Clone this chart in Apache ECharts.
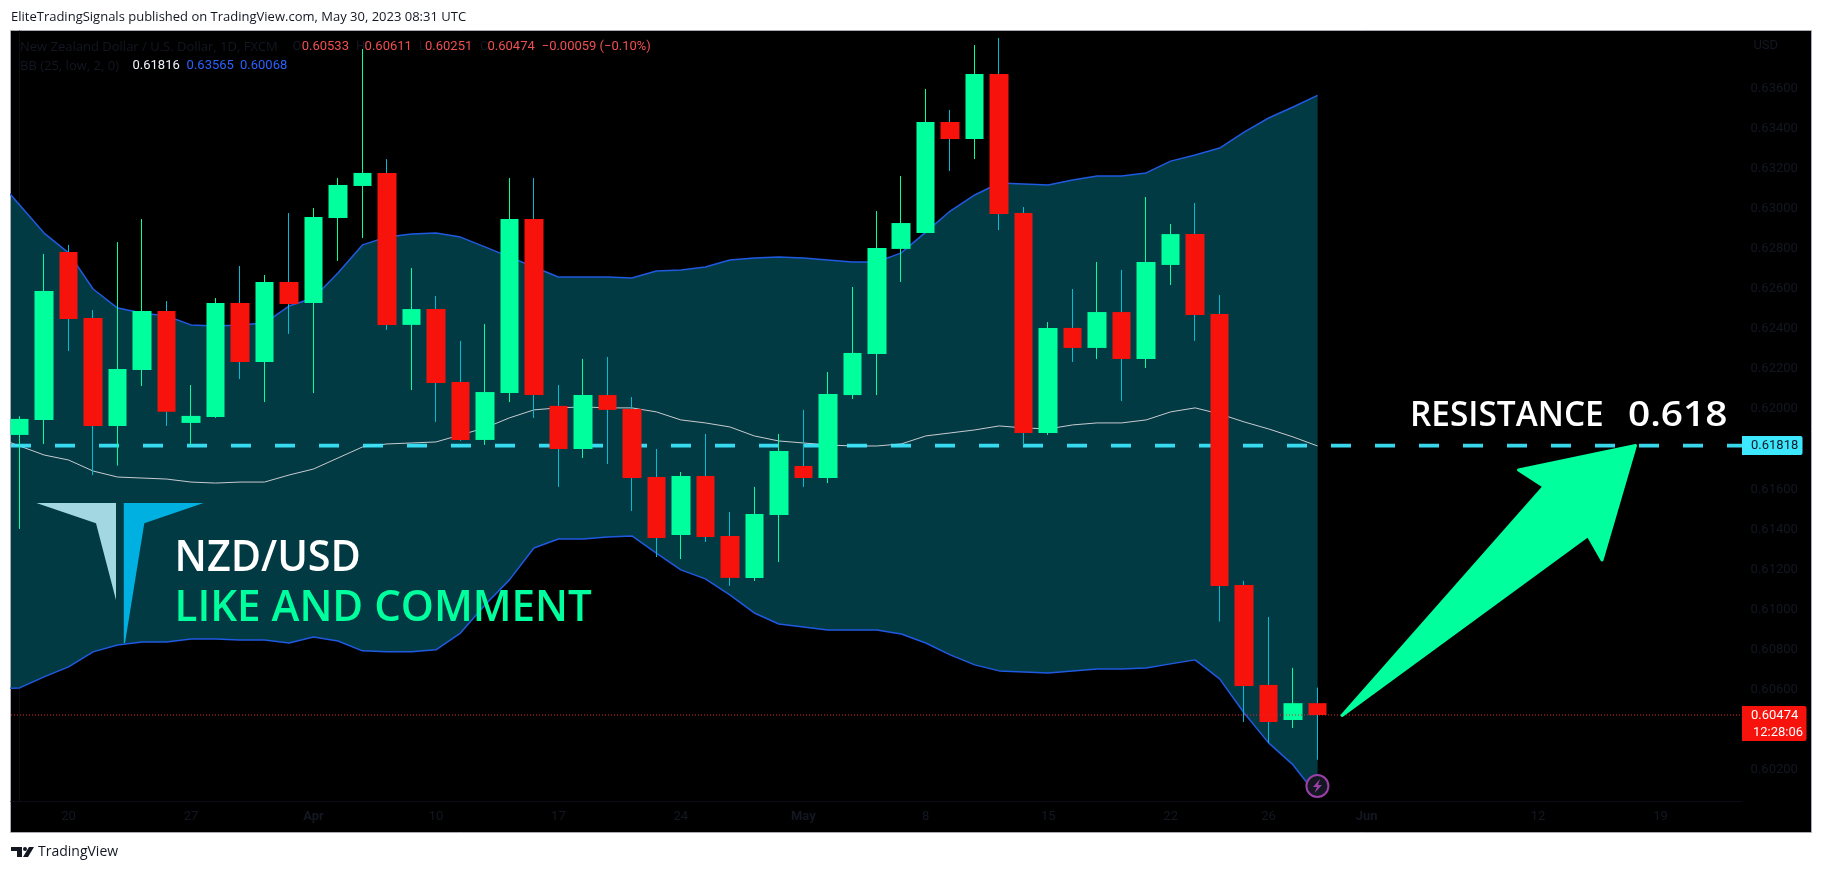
<!DOCTYPE html>
<html><head><meta charset="utf-8">
<style>html,body{margin:0;padding:0;background:#fff}#c{width:1822px;height:872px}</style>
<script src="https://cdn.jsdelivr.net/npm/echarts@6/dist/echarts.min.js"></script>
</head><body><div id="c"></div>
<script>
// candle values, first candle = 16 Mar 2023, last = 30 May 2023
const open  = [.61871,.61946,.62784,.62454,.61916,.62195,.62489,.61931,.61961,.62529,.62235,.62634,.62529,.62953,.63113,.63178,.62420,.62499,.62135,.61846,.62080,.62948,.62016,.61801,.62070,.62001,.61661,.61372,.61666,.61367,.61158,.61472,.61716,.61656,.62070,.62275,.62799,.62878,.63432,.63347,.63671,.62978,.61881,.62405,.62305,.62484,.62250,.62719,.62873,.62474,.61123,.60624,.60449,.60533];
const close = [.61951,.62589,.62449,.61916,.62200,.62489,.61987,.61966,.62529,.62235,.62634,.62524,.62958,.63118,.63178,.62420,.62499,.62130,.61846,.62085,.62948,.62070,.61801,.62070,.61996,.61656,.61357,.61666,.61362,.61158,.61477,.61791,.61656,.62075,.62280,.62804,.62928,.63432,.63347,.63671,.62973,.61881,.62405,.62305,.62484,.62250,.62734,.62873,.62469,.61118,.60619,.60439,.60533,.60474];
const low   = [.61402,.61826,.62290,.61671,.61718,.62115,.61916,.61821,.61956,.62150,.62035,.62375,.62080,.62739,.62853,.62395,.62095,.61936,.61841,.61821,.62035,.61956,.61612,.61756,.61726,.61492,.61262,.61252,.61337,.61118,.61143,.61237,.61612,.61631,.62050,.62070,.62634,.62878,.63188,.63247,.62893,.61821,.61871,.62235,.62250,.62040,.62205,.62619,.62340,.60940,.60439,.60335,.60409,.60251];
const high  = [.61964,.62774,.62819,.62494,.62833,.62948,.62539,.62120,.62554,.62714,.62669,.62978,.63003,.63153,.63796,.63247,.62704,.62564,.62340,.62424,.63153,.63153,.62120,.62250,.62260,.62060,.61801,.61686,.61876,.61487,.61612,.61876,.61996,.62185,.62609,.62988,.63163,.63597,.63492,.63816,.63851,.63008,.62434,.62599,.62734,.62694,.63058,.62923,.63028,.62569,.61143,.60963,.60709,.60611];
// Bollinger bands, first value is the bar before the first candle
const bbUpper = [.63158,.63018,.62878,.62779,.62599,.62504,.62479,.62464,.62420,.62415,.62420,.62429,.62514,.62554,.62679,.62819,.62858,.62873,.62878,.62858,.62809,.62759,.62709,.62659,.62659,.62659,.62654,.62689,.62694,.62709,.62744,.62754,.62759,.62754,.62744,.62734,.62734,.62779,.62883,.62988,.63068,.63128,.63123,.63118,.63143,.63163,.63163,.63178,.63237,.63267,.63302,.63382,.63452,.63507,.63565];
const bbBasis = [.61861,.61816,.61771,.61746,.61691,.61661,.61656,.61651,.61636,.61631,.61636,.61636,.61671,.61701,.61756,.61811,.61826,.61831,.61836,.61871,.61906,.61956,.61996,.62006,.62011,.62006,.62006,.61986,.61946,.61931,.61911,.61866,.61841,.61831,.61821,.61816,.61816,.61826,.61866,.61881,.61896,.61916,.61906,.61901,.61921,.61931,.61931,.61946,.61986,.62006,.61976,.61936,.61901,.61861,.61816];
const bbLower = [.60604,.60609,.60664,.60714,.60789,.60823,.60838,.60838,.60853,.60853,.60848,.60848,.60833,.60863,.60843,.60794,.60789,.60789,.60799,.60883,.61023,.61148,.61307,.61352,.61352,.61362,.61367,.61282,.61198,.61153,.61073,.60983,.60928,.60913,.60898,.60898,.60898,.60878,.60833,.60774,.60724,.60694,.60689,.60684,.60694,.60704,.60704,.60709,.60729,.60749,.60654,.60484,.60335,.60225,.60068];
const resistance = 0.61818;
const lastPrice = 0.60474;
const priceTicks = [.602,.606,.608,.61,.612,.614,.616,.62,.622,.624,.626,.628,.63,.632,.634,.636];
const dateTickIndex = [2,7,12,17,22,27,32,37,42,47,51,55,62,67];
const dateTickLabels = ['20','27','Apr','10','17','24','May','8','15','22','26','Jun','12','19'];
const monthLabels = ['Apr','May','Jun'];
const xMin = -0.351, xMax = 70.33;

const GREEN='#00ff9d', RED='#f7120c', WICK_DOWN='#00bcd4', FILL='#023a44', BLUE='#1f5ae0',
      BASIS='#c8cbd0', CYAN='#3de8ff', DARK='#131722', UI='Roboto, sans-serif', OS='"Open Sans", sans-serif';

const candleData = open.map((o,i)=>[i,o,close[i],low[i],high[i]]);
const bodyData = open.map((o,i)=>[i,o,close[i],Math.min(o,close[i]),Math.max(o,close[i])]);
const line = arr => arr.map((v,i)=>[i-1,v]);

function txt(text,x,y,fill,font,sx){
  return {type:'text',z:100,silent:true,x,y,scaleX:sx||1,style:{text,x:0,y:0,fill,font,textVerticalAlign:'middle',textAlign:'left'}};
}
function poly(points,fill,stroke){
  return {type:'polygon',z:100,silent:true,shape:{points},style:{fill,stroke:stroke||null,lineWidth:stroke?3:0,lineJoin:'round'}};
}
const f13='13px '+UI, t13='13px '+OS, big='600 44px '+OS, mid='600 35px '+OS;
const graphics=[
  {type:'rect',z:-10,silent:true,shape:{x:11,y:31,width:1800,height:801},style:{fill:'#000'}},
  {type:'rect',z:-9,silent:true,shape:{x:10.5,y:30.5,width:1801,height:802},style:{fill:null,stroke:'#a8abb4',lineWidth:1}},
  txt('EliteTradingSignals published on TradingView.com, May 30, 2023 08:31 UTC',11,17,DARK,t13),
  txt('New Zealand Dollar / U.S. Dollar, 1D, FXCM',20,47,DARK,t13),
  txt('O',292.6,47,DARK,f13), txt('0.60533',301.7,47,'#f05050',f13),
  txt('H',356,47,DARK,f13), txt('0.60611',364.6,47,'#f05050',f13),
  txt('L',419,47,DARK,f13), txt('0.60251',425,47,'#f05050',f13),
  txt('C',480,47,DARK,f13), txt('0.60474',487.5,47,'#f05050',f13),
  txt('\u22120.00059 (\u22120.10%)',541.7,47,'#f05050',f13),
  txt('BB (25, low, 2, 0)',20,66,DARK,t13),
  txt('0.61816',132.5,66,'#f0f3fa',f13), txt('0.63565',186.6,66,'#2962ff',f13), txt('0.60068',240,66,'#2962ff',f13),
  txt('USD',1753.4,46,DARK,f13),
  // logo
  poly([[36.4,503],[116,503],[116,600],[96,523.3]],'#a3d8e3'),
  poly([[123.8,503],[203.6,503],[144.3,523.3],[125,643],[123.8,643]],'#00b0e0'),
  txt('NZD/USD',174.5,558,'#ffffff',big,0.94),
  txt('LIKE AND COMMENT',174.5,608,GREEN,big,0.957),
  txt('RESISTANCE',1410,416.5,'#ffffff',mid,0.954),
  txt('0.618',1628,416.5,'#ffffff',mid,1.11),
  // arrow
  poly([[1635.5,445.5],[1518.5,470],[1544,486.5],[1342,715.5],[1588,535.5],[1602,560]],GREEN,GREEN),
  // price tags
  {type:'rect',z:100,silent:true,shape:{x:1742,y:436,width:60.5,height:19,r:[0,2,2,0]},style:{fill:CYAN}},
  txt('0.61818',1751,446,DARK,f13),
  {type:'rect',z:100,silent:true,shape:{x:1742,y:706,width:64.5,height:35,r:[0,2,2,0]},style:{fill:RED}},
  txt('0.60474',1751,716,'#ffffff',f13),
  txt('12:28:06',1753,732.6,'#ffffff',f13),
  // alert badge
  {type:'circle',z:100,silent:true,shape:{cx:1317.4,cy:786,r:11},style:{fill:DARK,stroke:'#9c3fa8',lineWidth:2}},
  poly([[1320,779],[1313,787],[1317,787],[1314.5,793],[1322,785],[1318,785]],'#9c3fa8'),
  // footer logo
  poly([[11,847],[22,847],[22,857],[17,857],[17,851],[11,851]],DARK),
  {type:'circle',z:100,silent:true,shape:{cx:25,cy:849,r:2},style:{fill:DARK}},
  poly([[29,847],[34,847],[28,857],[23,857]],DARK),
  txt('TradingView',38,852,DARK,'14px '+OS)
];

const chart=echarts.init(document.getElementById('c'),null,{renderer:'canvas'});
chart.setOption({
  animation:false,
  backgroundColor:'#ffffff',
  grid:{left:11,top:31,width:1731,height:770,containLabel:false},
  graphic:{elements:graphics},
  tooltip:{show:false},
  xAxis:{type:'value',min:xMin,max:xMax,
    splitLine:{show:false},
    axisLine:{show:true,onZero:false,lineStyle:{color:'#0c0e14',width:1}},
    axisTick:{show:false},
    axisLabel:{customValues:dateTickIndex,margin:9,color:DARK,fontSize:13,fontFamily:'Roboto, sans-serif',
      formatter:v=>{const s=dateTickLabels[dateTickIndex.indexOf(v)];return monthLabels.includes(s)?'{b|'+s+'}':s;},
      rich:{b:{fontWeight:'bold',color:DARK,fontSize:13,fontFamily:'Roboto, sans-serif'}}}},
  yAxis:{type:'value',position:'right',min:0.60045,max:0.63886,scale:true,
    splitLine:{show:false},
    axisLine:{show:true,lineStyle:{color:'#0c0e14',width:1}},
    axisTick:{show:false},
    axisLabel:{customValues:priceTicks,margin:8.6,color:DARK,fontSize:13,fontFamily:'Roboto, sans-serif',
      formatter:v=>v.toFixed(5)}},
  series:[
    {type:'custom',name:'BB fill',z:1,clip:true,silent:true,data:[0],
      encode:{x:[],y:[]},
      renderItem:(p,api)=>{
        const up=bbUpper.map((v,i)=>api.coord([i-1,v]));
        const lo=bbLower.map((v,i)=>api.coord([i-1,v])).reverse();
        return {type:'polygon',shape:{points:up.concat(lo)},style:{fill:FILL}};
      }},
    {type:'line',name:'BB upper',z:3,data:line(bbUpper),showSymbol:false,silent:true,lineStyle:{color:BLUE,width:1.5}},
    {type:'line',name:'BB lower',z:3,data:line(bbLower),showSymbol:false,silent:true,lineStyle:{color:BLUE,width:1.5}},
    {type:'line',name:'BB basis',z:3,data:line(bbBasis),showSymbol:false,silent:true,lineStyle:{color:BASIS,width:1}},
    {type:'line',name:'Resistance',z:3,data:[[xMin,resistance],[xMax,resistance]],showSymbol:false,silent:true,
      lineStyle:{color:CYAN,width:3.8,type:[20,24],opacity:.92}},
    {type:'candlestick',name:'NZD/USD wicks',z:4,silent:true,barWidth:1,data:candleData,
      itemStyle:{color:GREEN,color0:WICK_DOWN,borderColor:GREEN,borderColor0:WICK_DOWN,borderWidth:1}},
    {type:'candlestick',name:'NZD/USD',z:5,silent:true,barWidth:19,data:bodyData,
      itemStyle:{color:GREEN,color0:RED,borderColor:GREEN,borderColor0:RED,borderWidth:0}},
    {type:'line',name:'Last price',z:6,data:[[xMin,lastPrice],[xMax,lastPrice]],showSymbol:false,silent:true,
      lineStyle:{color:'#e0282a',width:1,type:[1,2]}}
  ]
});
</script></body></html>
